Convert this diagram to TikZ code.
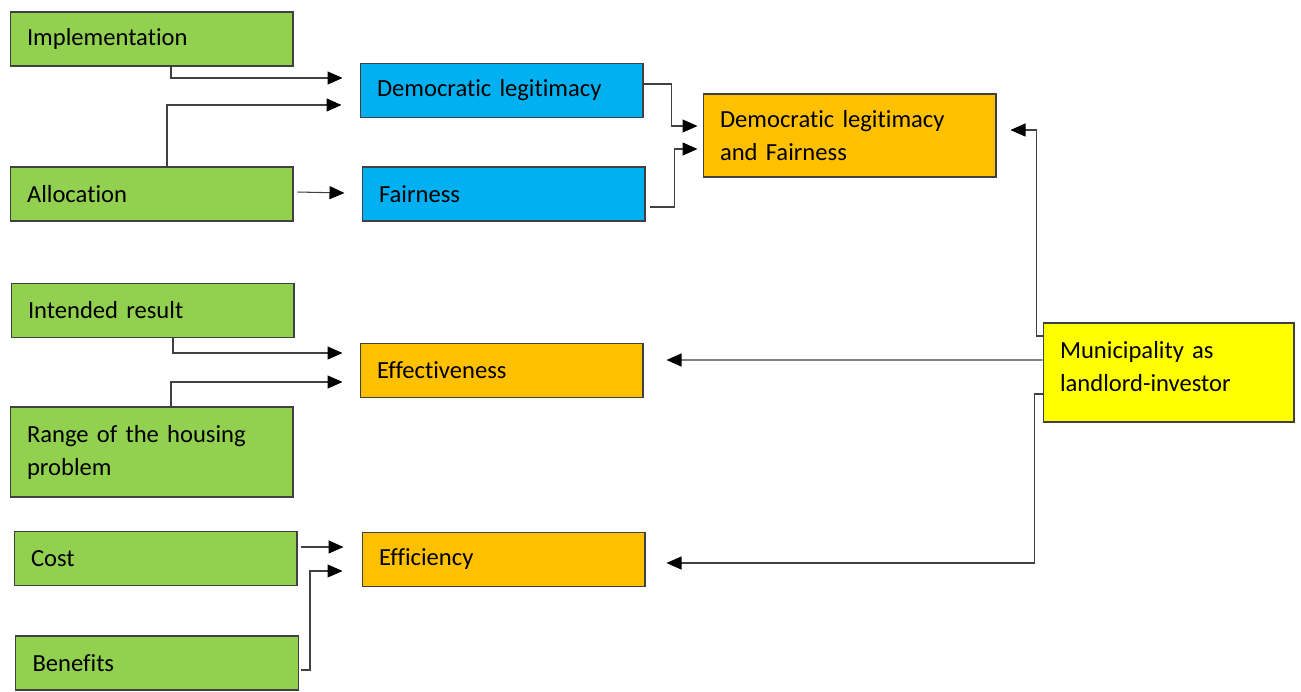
\documentclass[tikz,border=0pt]{standalone}
\usepackage{fontspec}
\setmainfont{Carlito}[Ligatures=NoCommon]
\usetikzlibrary{arrows.meta}

\definecolor{boxgreen}{HTML}{92D050}
\definecolor{boxblue}{HTML}{00B0F0}
\definecolor{boxorange}{HTML}{FFC000}
\definecolor{boxyellow}{HTML}{FFFF00}
\definecolor{wire}{HTML}{404040}

\tikzset{
	box/.style={shape=rectangle, draw=black!75, line width=0.6pt, align=left, inner xsep=0.34cm, inner ysep=0pt, font=\fontsize{14}{18.8}\selectfont, minimum width=5.66cm, minimum height=1.08cm, text width=4.98cm},
	factor/.style={box, fill=boxgreen},
	value/.style={box, fill=boxblue},
	goal/.style={box, fill=boxorange},
	wirearrow/.style={draw=wire, line width=0.6pt, -{Triangle[length=0.3cm, width=0.26cm, black]}},
}

\begin{document}
\begin{tikzpicture}[x=0.02cm, y=-0.02cm]
		% Paths, nodes and wires:
		\useasboundingbox[fill=white] (0, 0) rectangle (1301, 691);
		\node[factor] (impl) at (151.5, 39){Implementation};
		\node[factor] (alloc) at (151.5, 194){Allocation};
		\node[factor] (intended) at (152.5, 310.5){Intended result};
		\node[factor, minimum height=1.8cm] (range) at (151.5, 452){Range of the housing problem};
		\node[factor] (cost) at (155.5, 558.5){Cost};
		\node[factor] (benefits) at (157, 663){Benefits};
		\node[value] (demleg) at (501.5, 90.5){Democratic legitimacy};
		\node[value] (fair) at (503.5, 194){Fairness};
		\node[goal, minimum width=5.86cm, minimum height=1.66cm, text width=5.18cm] (dlf) at (849.5, 135.5){Democratic legitimacy and Fairness};
		\node[goal] (effect) at (501.5, 370.5){Effectiveness};
		\node[goal] (effic) at (503.5, 559.5){Efficiency};
		\node[box, fill=boxyellow, minimum width=5.02cm, minimum height=1.98cm, text width=4.34cm, text depth=0.92cm] (muni) at (1168.5, 372.5){Municipality as landlord-investor};
		\draw[wirearrow] ([xshift=0.39cm]impl.south) |- ([xshift=-0.34cm, yshift=0.25cm]demleg.west);
		\draw[wirearrow] ([xshift=0.31cm]alloc.north) |- ([xshift=-0.36cm, yshift=-0.29cm]demleg.west);
		\draw[wirearrow] ([xshift=0.08cm, yshift=0.04cm]alloc.east) -- ([xshift=-0.34cm, yshift=0.02cm]fair.west);
		\draw[wirearrow] ([yshift=0.13cm]demleg.east) -- ++(0.56cm, 0) |- ([xshift=-0.1cm, yshift=0.19cm]dlf.west);
		\draw[wirearrow] ([xshift=0.08cm, yshift=-0.26cm]fair.east) -- ++(0.5cm, 0) |- ([xshift=-0.1cm, yshift=-0.27cm]dlf.west);
		\draw[wirearrow] ([xshift=0.41cm]intended.south) |- ([xshift=-0.34cm, yshift=0.35cm]effect.west);
		\draw[wirearrow] ([xshift=0.39cm]range.north) |- ([xshift=-0.34cm, yshift=-0.23cm]effect.west);
		\draw[wirearrow] ([xshift=0.06cm, yshift=0.23cm]cost.east) -- ([xshift=-0.36cm, yshift=0.25cm]effic.west);
		\draw[wirearrow] ([xshift=0.04cm, yshift=-0.14cm]benefits.east) -- ++(0.18cm, 0) |- ([xshift=-0.38cm, yshift=-0.23cm]effic.west);
		\draw[wirearrow] ([yshift=0.25cm]muni.west) -- ([xshift=0.46cm, yshift=0.21cm]effect.east);
		\draw[wirearrow] ([yshift=0.73cm]muni.west) -- ++(-0.12cm, 0) |- ([xshift=0.28cm, yshift=0.11cm]dlf.east);
		\draw[wirearrow] ([yshift=-0.43cm]muni.west) -- ++(-0.16cm, 0) |- ([xshift=0.42cm, yshift=-0.07cm]effic.east);
	\end{tikzpicture}
\end{document}
